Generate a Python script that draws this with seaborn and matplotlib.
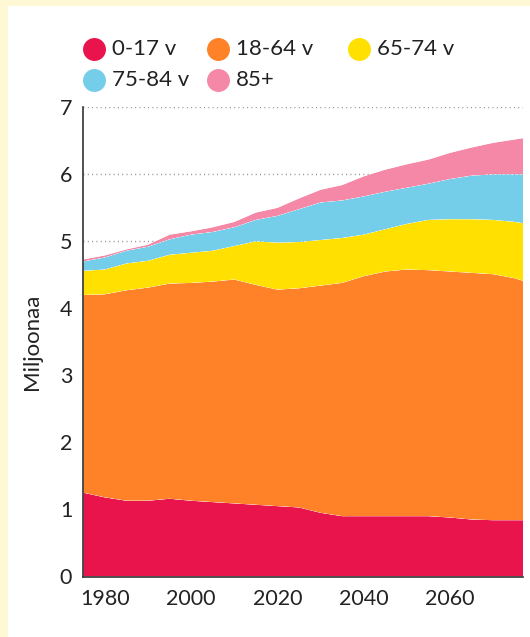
import numpy as np
import pandas as pd
import matplotlib
matplotlib.use("Agg")
import matplotlib.pyplot as plt
from matplotlib.lines import Line2D
from matplotlib.patches import Rectangle
import seaborn as sns
import seaborn.objects as so

years = [1975, 1980, 1985, 1990, 1995, 2000, 2005, 2010, 2015, 2020, 2025,
         2030, 2035, 2040, 2045, 2050, 2055, 2060, 2065, 2070, 2075, 2077]
# cumulative tops (millions)
top_0_17 = [1.25, 1.18, 1.13, 1.13, 1.16, 1.13, 1.11, 1.09, 1.07, 1.05, 1.03,
            0.95, 0.90, 0.90, 0.90, 0.90, 0.90, 0.88, 0.85, 0.84, 0.84, 0.84]
top_18_64 = [4.20, 4.21, 4.27, 4.31, 4.37, 4.38, 4.40, 4.43, 4.35, 4.28, 4.30,
             4.34, 4.38, 4.48, 4.55, 4.58, 4.57, 4.55, 4.53, 4.51, 4.45, 4.41]
top_65_74 = [4.56, 4.58, 4.67, 4.71, 4.80, 4.83, 4.86, 4.93, 5.00, 4.98, 4.99,
             5.02, 5.05, 5.10, 5.18, 5.26, 5.32, 5.33, 5.33, 5.32, 5.29, 5.27]
top_75_84 = [4.70, 4.76, 4.86, 4.92, 5.03, 5.10, 5.14, 5.21, 5.32, 5.38, 5.48,
             5.58, 5.61, 5.67, 5.74, 5.80, 5.86, 5.93, 5.98, 6.00, 6.00, 6.00]
top_85 = [4.73, 4.79, 4.88, 4.95, 5.10, 5.15, 5.21, 5.29, 5.43, 5.50, 5.64,
          5.77, 5.84, 5.97, 6.07, 6.15, 6.22, 6.32, 6.40, 6.47, 6.52, 6.54]

groups = ["0-17 v", "18-64 v", "65-74 v", "75-84 v", "85+"]
colors = ["#E9144C", "#FF8228", "#FFE000", "#74CEEA", "#F588A6"]
y_ticks = [0, 1, 2, 3, 4, 5, 6, 7]
x_ticks = [1980, 2000, 2020, 2040, 2060]

tops = np.array([top_0_17, top_18_64, top_65_74, top_75_84, top_85])
vals = np.diff(np.vstack([np.zeros(len(years)), tops]), axis=0)

rows = []
for yi, yr in enumerate(years):
    for gi, g in enumerate(groups):
        rows.append({"year": yr, "group": g, "value": vals[gi, yi]})
df = pd.DataFrame(rows)

sns.set_theme(style="white")
FONT = ["Lato", "DejaVu Sans"]
plt.rcParams["font.family"] = FONT

W, H = 530, 637
fig = plt.figure(figsize=(W / 100, H / 100), dpi=100)
fig.patch.set_facecolor("#FFF8D4")
fig.add_artist(Rectangle((8 / W, 0), 1, 1 - 6 / H, transform=fig.transFigure,
                         facecolor="white", edgecolor="none", zorder=0))

ax = fig.add_axes([83.3 / W, 1 - 576.5 / H, 440 / W, (576.5 - 107.3) / H])
ax.set_facecolor("none")

(
    so.Plot(df, x="year", y="value", color="group")
    .add(so.Area(alpha=1, edgewidth=0), so.Stack(), legend=False)
    .scale(color=so.Nominal(dict(zip(groups, colors)), order=groups))
    .on(ax)
    .plot()
)

ax.set_xlim(1975, 2077)
ax.set_ylim(0, 7)
ax.set_yticks(y_ticks)
ax.set_yticklabels([str(t) for t in y_ticks])
ax.set_xticks(x_ticks)
ax.set_xticklabels([str(t) for t in x_ticks])
for yv in y_ticks[1:]:
    ax.axhline(yv, color="#8a8a8a", lw=1.0, ls=(0, (0.7, 2.4)), zorder=0.5)
for c in ax.collections:
    c.set_zorder(2)

ax.tick_params(axis="both", length=0, labelsize=15.5, colors="#222222")
ax.tick_params(axis="y", pad=8)
ax.tick_params(axis="x", pad=9)
for s in ["top", "right"]:
    ax.spines[s].set_visible(False)
for s in ["left", "bottom"]:
    ax.spines[s].set_color("#333333")
    ax.spines[s].set_linewidth(1.2)
    ax.spines[s].set_zorder(3)
ax.set_xlabel("")
ax.set_ylabel("Miljoonaa", fontsize=16, color="#222222")
ax.yaxis.set_label_coords(-0.094, 0.5)
ax.grid(False)

# legend
leg_pos = [(94, 49), (218, 49), (359, 49), (94, 80), (218, 80)]
for (px, py), g, c in zip(leg_pos, groups, colors):
    fig.add_artist(Line2D([px / W], [1 - py / H], marker="o", markersize=15.5,
                          color=c, linestyle="none", transform=fig.transFigure))
    fig.text((px + 18) / W, 1 - py / H, g, fontsize=16, color="#222222",
             va="center", ha="left")

fig.savefig("out.png", dpi=100, facecolor=fig.get_facecolor())
